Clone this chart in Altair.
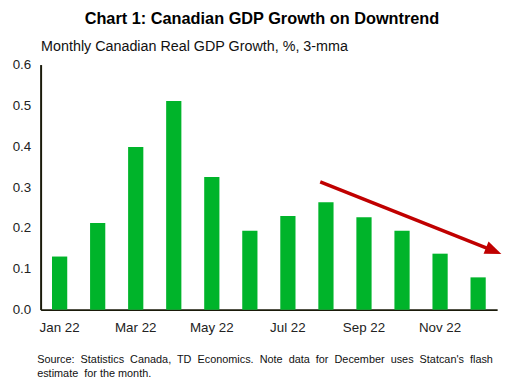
import altair as alt
import pandas as pd

months = ["Jan 22", "Feb 22", "Mar 22", "Apr 22", "May 22", "Jun 22",
          "Jul 22", "Aug 22", "Sep 22", "Oct 22", "Nov 22", "Dec 22"]
growth = [0.130, 0.212, 0.398, 0.511, 0.325, 0.193,
          0.229, 0.263, 0.226, 0.193, 0.137, 0.079]
shown_labels = ["Jan 22", "Mar 22", "May 22", "Jul 22", "Sep 22", "Nov 22"]
y_ticks = [0.0, 0.1, 0.2, 0.3, 0.4, 0.5, 0.6]

# downtrend arrow annotation (month-index position, value)
arrow_x = [7.35, 11.91]
arrow_y = [0.313, 0.144]
head_x = [11.91]
head_y = [0.144]

FONT = "Liberation Sans"
GREEN = "#00B42A"
RED = "#C00000"
AXIS = "#1a1a0a"

NB = "\u00a0"
footer_1 = (NB + " ").join(
    "Source: Statistics Canada, TD Economics. Note data for December uses Statcan's flash".split(" "))
footer_2 = "estimate" + NB + " for the month."

bars_df = pd.DataFrame({"month": months, "growth": growth})
arrow_df = pd.DataFrame({"x": arrow_x, "y": arrow_y})
head_df = pd.DataFrame({"x": head_x, "y": head_y})

y_scale = alt.Scale(domain=[0, 0.6], nice=False, zero=True)

bars = alt.Chart(bars_df).mark_bar(color=GREEN).encode(
    x=alt.X("month:N", sort=months,
            scale=alt.Scale(paddingInner=0.6, paddingOuter=0.3),
            axis=alt.Axis(values=shown_labels, labelAngle=0, ticks=False,
                          labelPadding=11, labelFontSize=13.5, labelColor="#222",
                          domainColor=AXIS, domainWidth=2,
                          title=[footer_1, footer_2],
                          titleFontSize=11, titleFontWeight="normal", titleColor="#111",
                          titleAlign="left", titleAnchor="start", titleBaseline="top",
                          titleX=-4, titleY=45, titleLineHeight=14)),
    y=alt.Y("growth:Q", scale=y_scale,
            axis=alt.Axis(values=y_ticks, format=".1f", ticks=False, grid=False,
                          labelFontSize=13.5, labelColor="#222", labelPadding=10,
                          domainColor=AXIS, domainWidth=2,
                          title="Monthly Canadian Real GDP Growth, %, 3-mma",
                          titleAngle=0, titleAlign="left", titleBaseline="alphabetic",
                          titleX=0, titleY=-14, titleFontSize=14.5,
                          titleFontWeight="normal", titleColor="#111")),
)

x_q = alt.Scale(domain=[0, 12], nice=False, zero=False)

arrow_line = alt.Chart(arrow_df).mark_line(color=RED, strokeWidth=3.5).encode(
    x=alt.X("x:Q", scale=x_q, axis=None),
    y=alt.Y("y:Q", scale=y_scale),
)

arrow_head = alt.Chart(head_df).mark_point(
    shape="M-1,-0.8L1,0L-1,0.8Z", filled=True, color=RED, opacity=1,
    size=280, angle=22, strokeWidth=0
).encode(
    x=alt.X("x:Q", scale=x_q, axis=None),
    y=alt.Y("y:Q", scale=y_scale),
)

arrow = alt.layer(arrow_line, arrow_head)

chart = alt.layer(bars, arrow).resolve_scale(x="independent").properties(
    width=462, height=248,
    title=alt.TitleParams("Chart 1: Canadian GDP Growth on Downtrend",
                          font=FONT, fontSize=16.5, fontWeight="bold", color="#000",
                          anchor="middle", dx=-7, offset=12),
    padding={"left": 33, "top": 55, "right": 12, "bottom": 72},
    autosize=alt.AutoSizeParams(type="none"),
).configure(font=FONT).configure_view(stroke=None).configure_axis(
    labelFont=FONT, titleFont=FONT
)

chart.save("out.html", embed_options={"renderer": "svg", "actions": False})
